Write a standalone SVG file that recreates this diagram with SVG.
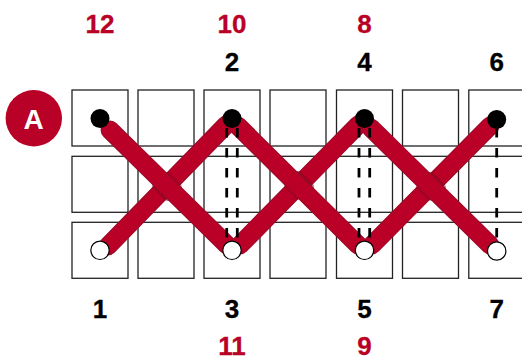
<svg xmlns="http://www.w3.org/2000/svg" width="522" height="356" viewBox="0 0 522 356">
<style>
.sq{fill:#fff;stroke:#222;stroke-width:1.3}
.o{stroke:#9c0a2a;stroke-width:18.800;stroke-linecap:round;fill:none}
.m{stroke:#ab0529;stroke-width:17.500;stroke-linecap:round;fill:none}
.i{stroke:#bb0027;stroke-width:16;stroke-linecap:round;fill:none}
.s{stroke:#6e0a20;stroke-width:20.500;stroke-opacity:.75;fill:none;filter:url(#blur)}
.d{stroke:#000;stroke-width:2.800;stroke-dasharray:9.6 10.4;fill:none}
.t{font-family:"Liberation Sans",Arial,sans-serif;font-weight:700;font-size:26px;text-anchor:middle;stroke-width:.3}
.r{fill:#b90027;stroke:#b90027}
.k{fill:#000;stroke:#000}
.b{fill:#000}
.w{fill:#fff;stroke:#000;stroke-width:1.2}
</style>
<defs>
<filter id="blur" x="-30%" y="-30%" width="160%" height="160%"><feGaussianBlur stdDeviation="1.1"/></filter>
</defs>
<rect width="522" height="356" fill="#fff"/>
<g id="grid">
<rect class="sq" x="72" y="90" width="56" height="56"/><rect class="sq" x="138" y="90" width="56" height="56"/><rect class="sq" x="204" y="90" width="56" height="56"/><rect class="sq" x="270" y="90" width="56" height="56"/><rect class="sq" x="336.500" y="90" width="56" height="56"/><rect class="sq" x="402.500" y="90" width="56" height="56"/><rect class="sq" x="468.800" y="90" width="60" height="56"/>
<rect class="sq" x="72" y="156.300" width="56" height="56"/><rect class="sq" x="138" y="156.300" width="56" height="56"/><rect class="sq" x="204" y="156.300" width="56" height="56"/><rect class="sq" x="270" y="156.300" width="56" height="56"/><rect class="sq" x="336.500" y="156.300" width="56" height="56"/><rect class="sq" x="402.500" y="156.300" width="56" height="56"/><rect class="sq" x="468.800" y="156.300" width="60" height="56"/>
<rect class="sq" x="72" y="222.300" width="56" height="56"/><rect class="sq" x="138" y="222.300" width="56" height="56"/><rect class="sq" x="204" y="222.300" width="56" height="56"/><rect class="sq" x="270" y="222.300" width="56" height="56"/><rect class="sq" x="336.500" y="222.300" width="56" height="56"/><rect class="sq" x="402.500" y="222.300" width="56" height="56"/><rect class="sq" x="468.800" y="222.300" width="60" height="56"/>
</g>
<g id="connectors">
<path class="o" d="M108 246L226 125"/><path class="m" d="M108 246L226 125"/><path class="i" d="M108 246L226 125"/>
<path class="o" d="M240 245L358 125"/><path class="m" d="M240 245L358 125"/><path class="i" d="M240 245L358 125"/>
<path class="o" d="M372 245L490 126"/><path class="m" d="M372 245L490 126"/><path class="i" d="M372 245L490 126"/>
<path class="s" d="M158 177.500L176 195.500"/><path class="s" d="M290 176.500L308 194.500"/><path class="s" d="M422 177.500L440 195.500"/>
<path class="o" d="M110 130L227 245"/><path class="m" d="M110 130L227 245"/><path class="i" d="M110 130L227 245"/>
<path class="o" d="M238 126L358 245"/><path class="m" d="M238 126L358 245"/><path class="i" d="M238 126L358 245"/>
<path class="o" d="M371 128L490 245"/><path class="m" d="M371 128L490 245"/><path class="i" d="M371 128L490 245"/>
<path class="d" d="M226.700 128V240M237.300 128V240M359 128V240M369.700 128V240M496.700 128V240"/>
</g>
<g id="badge-A"><circle class="r" style="stroke:none" cx="33.800" cy="118.300" r="28.200"/><text class="t" style="font-size:28px" x="33.500" y="129" fill="#fff">A</text></g>
<g id="p1"><circle class="w" cx="100" cy="250.300" r="9.200"/><text class="t k" x="100" y="318">1</text></g>
<g id="p2"><circle class="b" cx="232" cy="118.500" r="9.500"/><text class="t k" x="232" y="71">2</text></g>
<g id="p3"><circle class="w" cx="232" cy="250.300" r="9.200"/><text class="t k" x="232" y="318">3</text></g>
<g id="p4"><circle class="b" cx="364.500" cy="118.500" r="9.500"/><text class="t k" x="364.500" y="71">4</text></g>
<g id="p5"><circle class="w" cx="364.500" cy="250.300" r="9.200"/><text class="t k" x="364.500" y="318">5</text></g>
<g id="p6"><circle class="b" cx="496.700" cy="119.500" r="9.500"/><text class="t k" x="496.700" y="71">6</text></g>
<g id="p7"><circle class="w" cx="496.700" cy="251" r="9.200"/><text class="t k" x="496.700" y="318">7</text></g>
<g id="p8"><text class="t r" x="364.500" y="33">8</text></g>
<g id="p9"><text class="t r" x="364.500" y="354.500">9</text></g>
<g id="p10"><text class="t r" x="232" y="33">10</text></g>
<g id="p11"><text class="t r" x="232" y="354.500">11</text></g>
<g id="p12"><circle class="b" cx="100" cy="118.500" r="9.500"/><text class="t r" x="100" y="33">12</text></g>
</svg>
